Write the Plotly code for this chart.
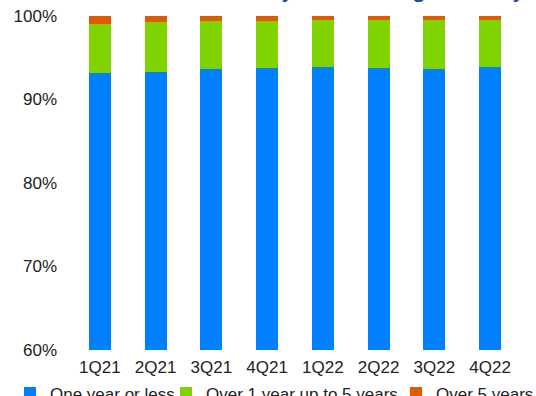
import plotly.graph_objects as go

quarters = ["1Q21", "2Q21", "3Q21", "4Q21", "1Q22", "2Q22", "3Q22", "4Q22"]
one_year_or_less = [93.2, 93.27, 93.7, 93.75, 93.87, 93.75, 93.63, 93.87]
over_1_to_5 = [5.9, 6.03, 5.68, 5.71, 5.63, 5.75, 5.95, 5.71]
over_5 = [0.9, 0.7, 0.62, 0.54, 0.5, 0.5, 0.42, 0.42]
y_ticks = [60, 70, 80, 90, 100]
y_tick_labels = ["60%", "70%", "80%", "90%", "100%"]

series = [
    ("One year or less", one_year_or_less, "#0080FF", "legend"),
    ("Over 1 year up to 5 years", over_1_to_5, "#7ED300", "legend2"),
    ("Over 5 years", over_5, "#E05A00", "legend3"),
]

fig = go.Figure()
for name, vals, color, leg in series:
    fig.add_trace(go.Bar(x=quarters, y=vals, name=name, legend=leg,
                         marker=dict(color=color, line=dict(width=0))))

FONT = "Liberation Sans, Arial, sans-serif"
legend_common = dict(orientation="h", xanchor="left", y=-0.076, yanchor="top",
                     font=dict(size=17, color="#222222"), itemwidth=30,
                     bgcolor="rgba(0,0,0,0)")

fig.update_layout(
    barmode="stack",
    bargap=0.605,
    width=536, height=396,
    margin=dict(l=72, r=18, t=16, b=46, autoexpand=False),
    paper_bgcolor="white", plot_bgcolor="white",
    font=dict(family=FONT, size=16, color="#222222"),
    showlegend=True,
    legend=dict(x=-0.139, **legend_common),
    legend2=dict(x=0.2108, **legend_common),
    legend3=dict(x=0.7265, **legend_common),
    xaxis=dict(showgrid=False, showline=False, zeroline=False, ticks="",
               tickfont=dict(size=17), ticklabelstandoff=5),
    yaxis=dict(range=[60, 100], tickvals=y_ticks, ticktext=y_tick_labels, showgrid=False,
               showline=False, zeroline=False, ticks="", tickfont=dict(size=17),
               ticklabelstandoff=14),
    annotations=[dict(text="Liabilities by Remaining Maturity", xref="paper", yref="paper",
                      x=1.0235, y=1, xanchor="right", yanchor="bottom", yshift=11,
                      showarrow=False, font=dict(size=26, color="#1A47A8", family=FONT))],
)

fig.write_html("out.html", config={"displayModeBar": False},
               post_script="document.body.style.margin='0';document.body.style.overflow='hidden';")
